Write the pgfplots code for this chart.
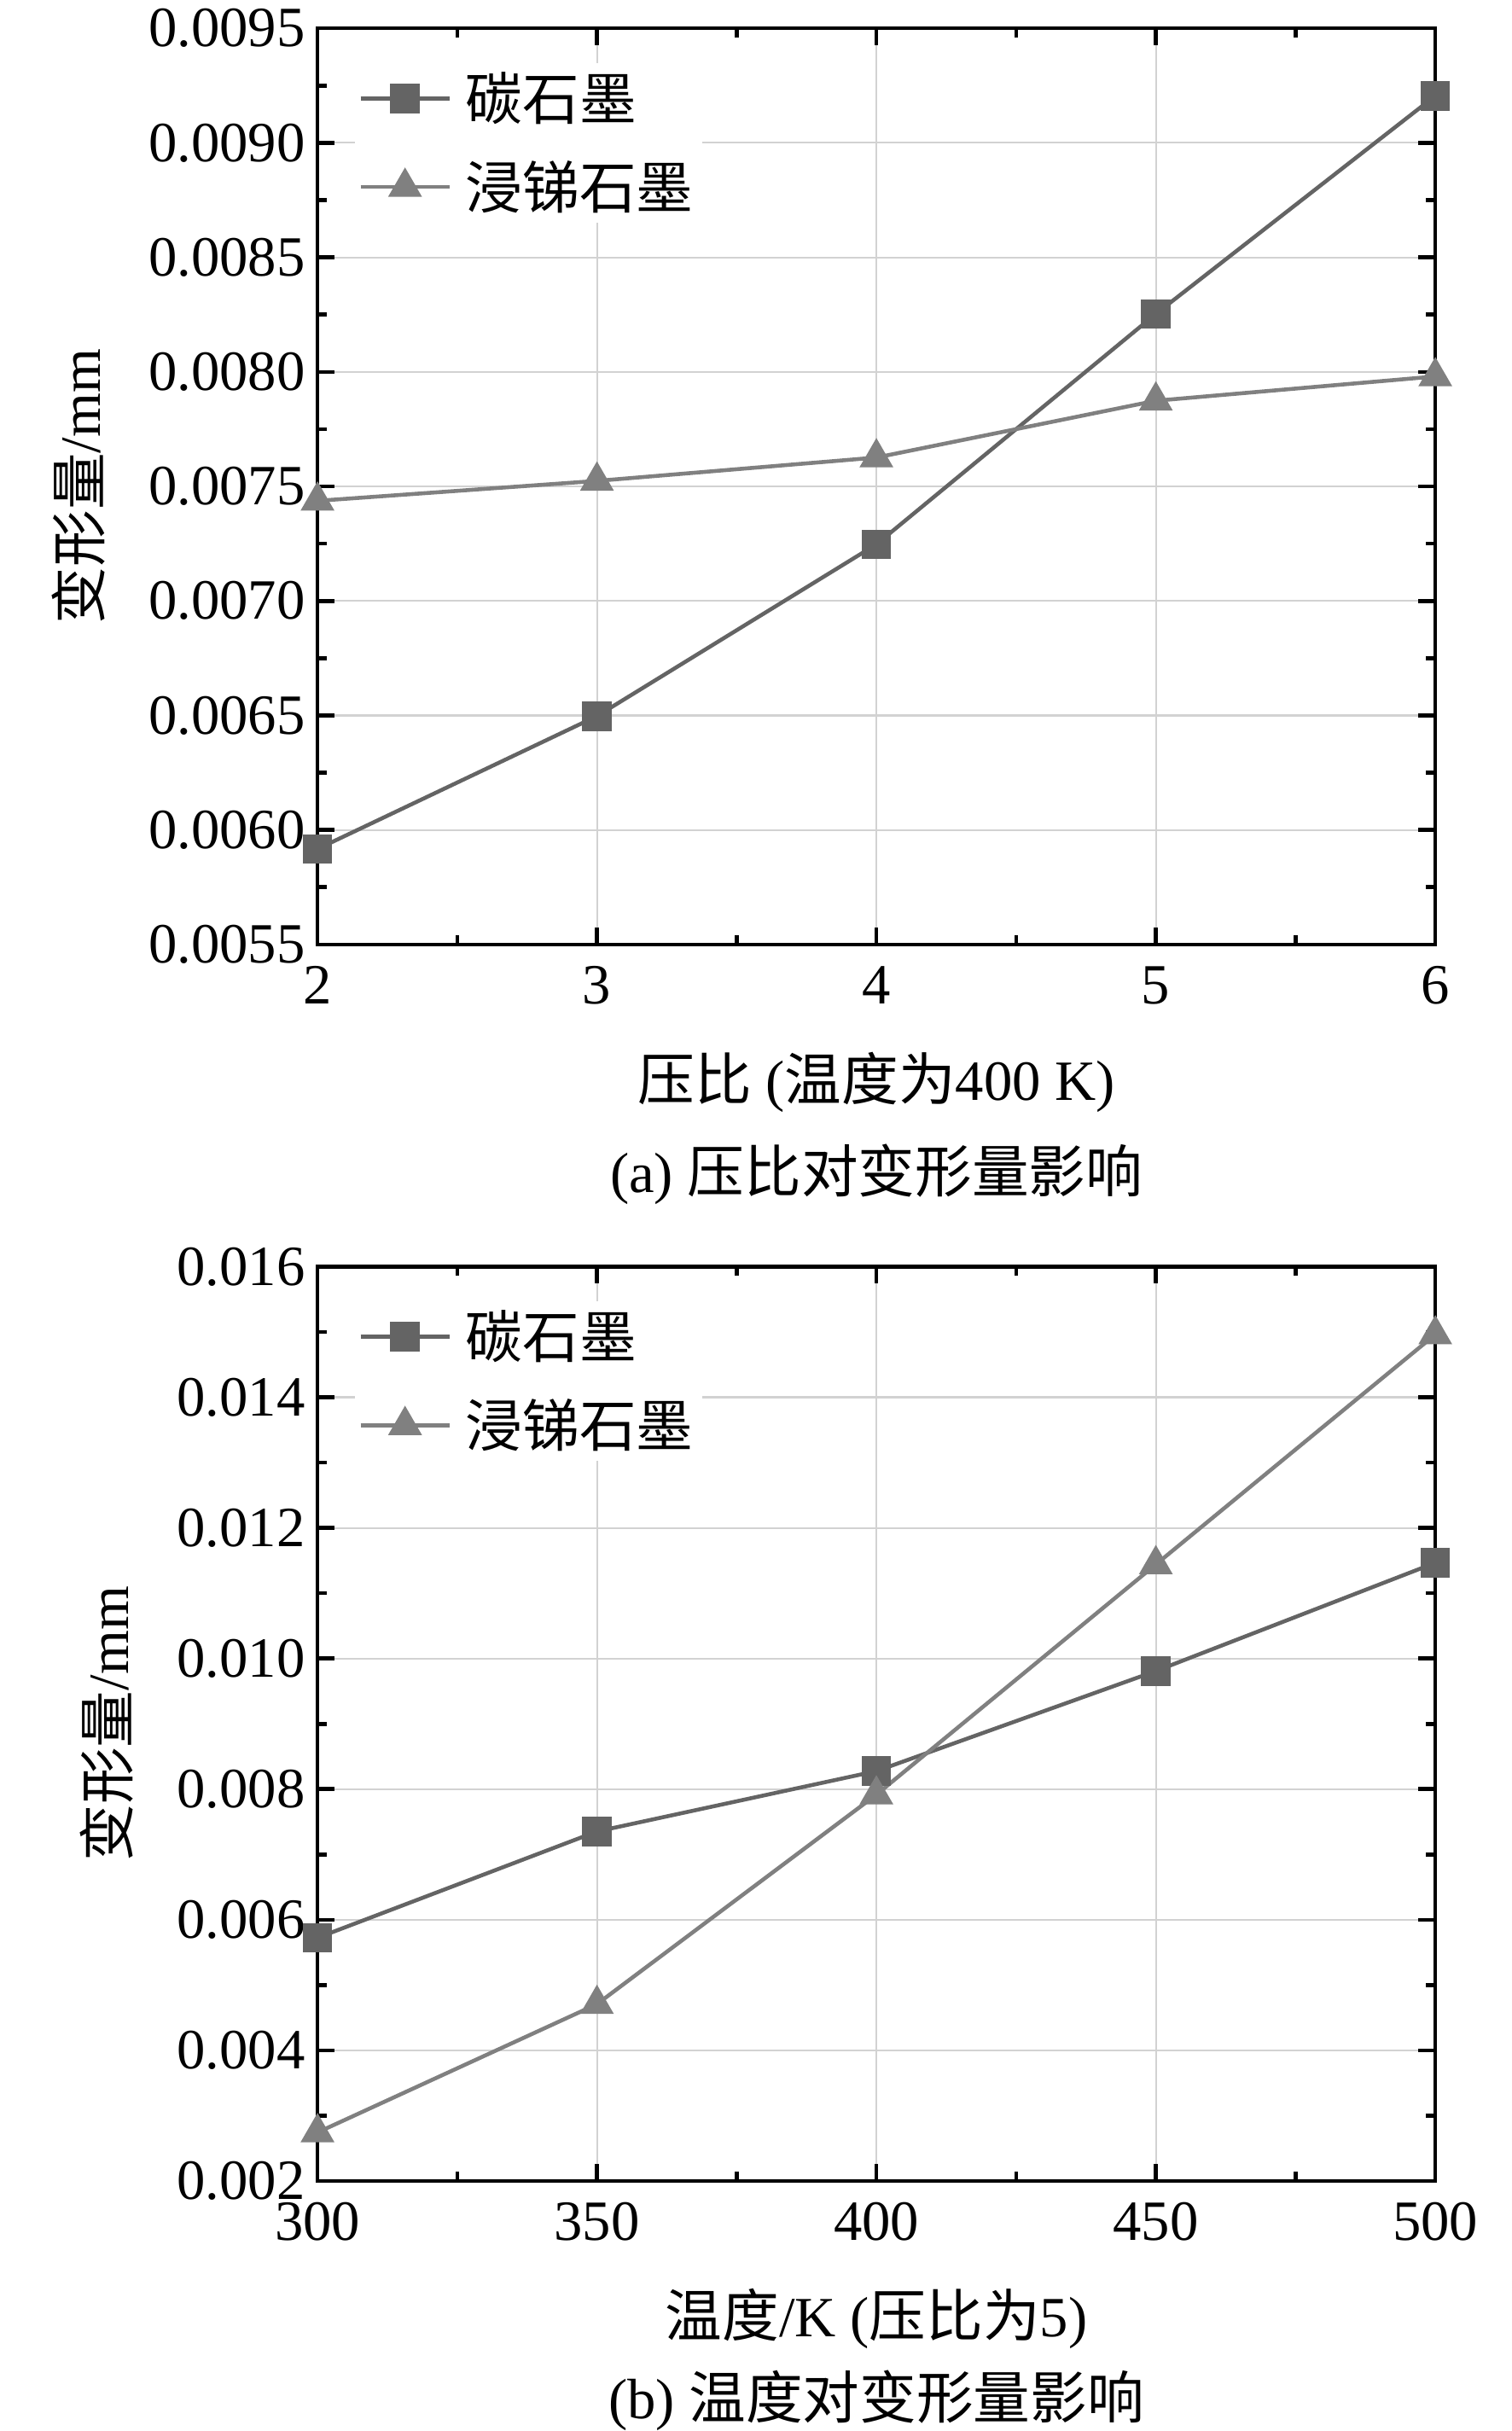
\documentclass[border=0pt]{standalone}
\usepackage{pgfplots}
\pgfplotsset{compat=1.18}
\usepackage{fontspec}
\setmainfont{Liberation Serif}
\newfontfamily\cjk{Noto Sans CJK SC}
\definecolor{cA}{RGB}{100,100,100}
\definecolor{cB}{RGB}{128,128,128}
\definecolor{gridc}{RGB}{210,210,210}
\newcommand{\fs}{\fontsize{16bp}{19bp}\selectfont}
\pgfplotsset{
  myaxis/.style={
    scale only axis,
    width=314.4bp,
    anchor=south west,
    axis line style={line width=1.1bp, black},
    major tick length=4.8bp,
    minor tick length=2.6bp,
    every tick/.style={black, line width=1.1bp},
    tick align=inside,
    minor x tick num=1,
    minor y tick num=1,
    grid=major,
    major grid style={gridc, line width=0.5bp},
    /pgf/number format/assume math mode=true,
    tick label style={font=\fs},
    xticklabel style={yshift=-2.6bp},
    scaled y ticks=false,
    every axis x label/.style={at={(rel axis cs:0.5,0)}, yshift=-38.7bp, anchor=center, font=\fs},
    legend style={draw=none, fill=white, at={(rel axis cs:0.033,0.963)}, anchor=north west,
      font=\fs, row sep=7bp, column sep=2.5bp, inner sep=1bp, nodes={inner sep=1.5bp}},
    legend cell align=left,
    legend image code/.code={\draw[mark repeat=2,mark phase=2] plot coordinates {(0bp,0bp) (12.5bp,0bp) (25bp,0bp)};},
  },
  sA/.style={cA, line width=1.1bp, mark=square*, mark size=3.6bp, mark options={solid, fill=cA, draw=cA}},
  sB/.style={cB, line width=1.1bp, mark=triangle*, mark size=4.4bp, mark options={solid, fill=cB, draw=cB}},
}
\begin{document}
\begin{tikzpicture}
\useasboundingbox (0,0) rectangle (425.28bp,683.76bp);
\begin{axis}[myaxis,
  at={(89.3bp,418.1bp)}, height=257.7bp,
  xmin=2, xmax=6, ymin=0.0055, ymax=0.0095,
  xtick={2,3,4,5,6},
  ytick={0.0055,0.0060,0.0065,0.0070,0.0075,0.0080,0.0085,0.0090,0.0095},
  yticklabel style={/pgf/number format/.cd, fixed, fixed zerofill, precision=4},
  clip=false,
  xlabel={{\cjk 压比} ({\cjk 温度为}400 K)},
  every axis y label/.style={at={(rel axis cs:0,0.5)}, xshift=-67.3bp, rotate=90, anchor=center, font=\fs},
  ylabel={{\cjk 变形量}/mm},
]
\addplot[sA] coordinates {(2,0.005917) (3,0.006497) (4,0.007247) (5,0.008253) (6,0.009205)};
\addlegendentry{{\cjk 碳石墨}}
\addplot[sB] coordinates {(2,0.007437) (3,0.007524) (4,0.007626) (5,0.007874) (6,0.007980)};
\addlegendentry{{\cjk 浸锑石墨}}
\end{axis}
\node[font=\fs, anchor=center] at (246.5bp,353.5bp) {(a) {\cjk 压比对变形量影响}};
\begin{axis}[myaxis,
  at={(89.3bp,70.3bp)}, height=257.2bp,
  xmin=300, xmax=500, ymin=0.002, ymax=0.016,
  xtick={300,350,400,450,500},
  ytick={0.002,0.004,0.006,0.008,0.010,0.012,0.014,0.016},
  yticklabel style={/pgf/number format/.cd, fixed, fixed zerofill, precision=3},
  clip=false,
  xlabel={{\cjk 温度}/K ({\cjk 压比为}5)},
  every axis y label/.style={at={(rel axis cs:0,0.5)}, xshift=-59.4bp, rotate=90, anchor=center, font=\fs},
  ylabel={{\cjk 变形量}/mm},
]
\addplot[sA] coordinates {(300,0.005724) (350,0.007352) (400,0.008276) (450,0.009808) (500,0.011465)};
\addlegendentry{{\cjk 碳石墨}}
\addplot[sB] coordinates {(300,0.002744) (350,0.004708) (400,0.007916) (450,0.011440) (500,0.014960)};
\addlegendentry{{\cjk 浸锑石墨}}
\end{axis}
\node[font=\fs, anchor=base, inner sep=0pt] at (246.5bp,3.4bp) {(b) {\cjk 温度对变形量影响}};
\end{tikzpicture}
\end{document}
